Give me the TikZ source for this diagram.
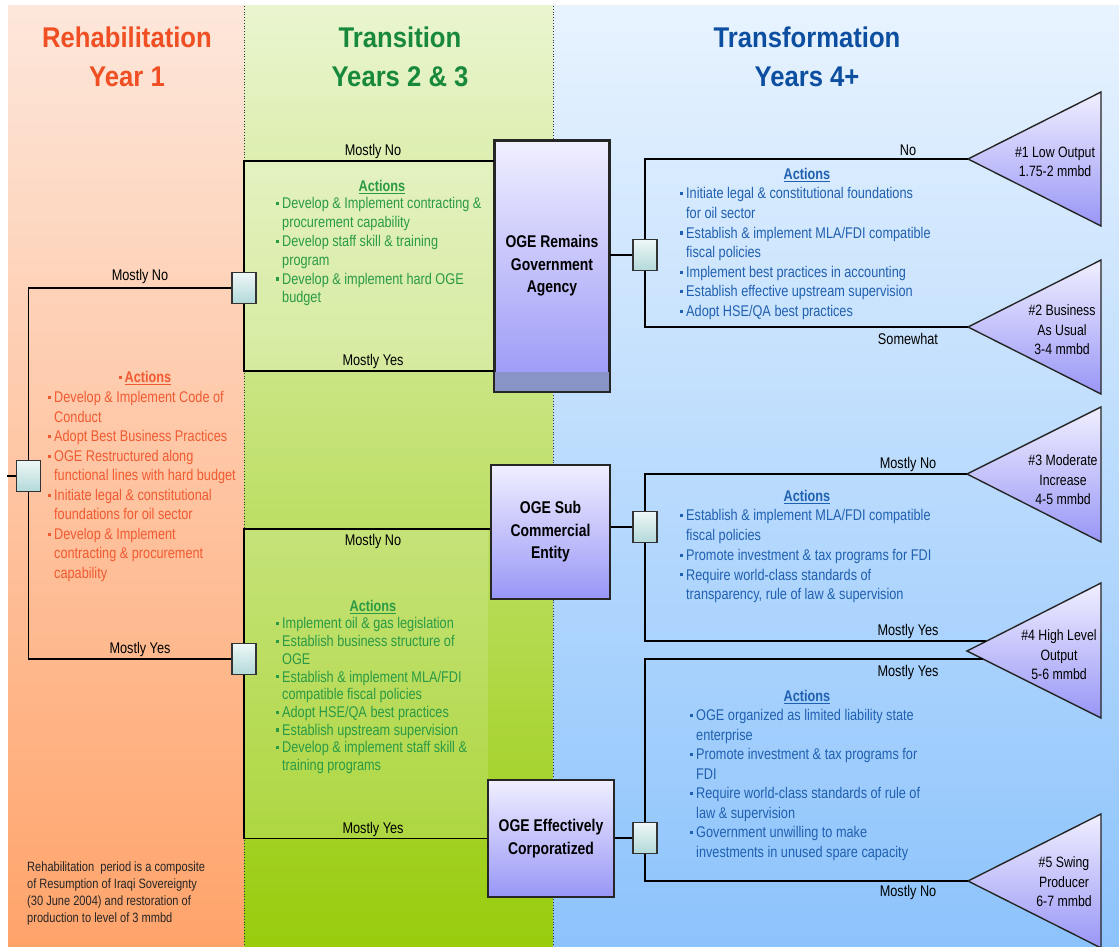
\documentclass[tikz,border=0pt]{standalone}
\usepackage{fontspec}
\setmainfont{Liberation Sans}[FakeStretch=0.82]
\newfontfamily\headfont{Liberation Sans}[FakeStretch=0.9]
\usetikzlibrary{calc}
\definecolor{orgtop}{HTML}{FDE7DB}
\definecolor{orgbot}{HTML}{FFA36A}
\definecolor{grntop}{HTML}{EAF5D0}
\definecolor{grnbot}{HTML}{98CC0C}
\definecolor{blutop}{HTML}{E8F3FE}
\definecolor{blubot}{HTML}{8CC3FC}
\definecolor{boxtop}{HTML}{F0EFFF}
\definecolor{boxbot}{HTML}{9896F6}
\definecolor{band}{HTML}{8994C6}
\definecolor{sqtop}{HTML}{EEF7F7}
\definecolor{sqbot}{HTML}{B3D8D9}
\definecolor{rehab}{HTML}{F04E23}
\definecolor{rehabtxt}{HTML}{F05A32}
\definecolor{trans}{HTML}{18893A}
\definecolor{transtxt}{HTML}{2A9A45}
\definecolor{xform}{HTML}{0C4EA0}
\definecolor{xformtxt}{HTML}{2060B0}
\newcommand{\bul}{\makebox[6pt][l]{\raisebox{3.6pt}{\rule{3.2pt}{3.2pt}}}}
\newcommand{\ind}{\makebox[6pt]{}}
\newcommand{\actul}[1]{\setbox0\hbox{#1}\rlap{\rule[-2.4pt]{\wd0}{1.1pt}}\box0}
\tikzset{
  link/.style={draw=black, line width=1.3pt},
  sqr/.style={rectangle, draw=black!80, line width=1.4pt, top color=sqtop, bottom color=sqbot,
    minimum width=24pt, minimum height=31pt, inner sep=0pt},
  oge/.style={rectangle, draw=black!85, line width=1.6pt, top color=boxtop, bottom color=boxbot,
    align=center, font=\fontsize{17}{22.5}\selectfont\bfseries, inner sep=0pt},
  outc/.style={draw=black!85, line width=1.4pt, top color=boxtop, bottom color=boxbot},
  outt/.style={align=center, font=\fontsize{15}{19.5}\selectfont, inner sep=0pt},
  lab/.style={font=\fontsize{15.5}{18}\selectfont, inner sep=0pt},
  head/.style={align=center, font=\headfont\fontsize{28.5}{39}\selectfont\bfseries, inner sep=0pt, anchor=north},
  acts/.style={align=left, inner sep=0pt, anchor=north west},
  actt/.style={font=\fontsize{15.5}{18}\selectfont\bfseries, inner sep=0pt},
  note/.style={align=left, inner sep=0pt, anchor=north west, text=black!85, font=\fontsize{13.5}{17}\selectfont},
}
\begin{document}
\begin{tikzpicture}[x=1pt, y=-1pt]
  \useasboundingbox (0,0) rectangle (1119,947);
  \fill[white] (0,0) rectangle (1119,947);

  % phase columns
  \shade[top color=orgtop, bottom color=orgbot] (8,6) rectangle (244,947);
  \shade[top color=grntop, bottom color=grnbot] (244,6) rectangle (553,947);
  \shade[top color=blutop, bottom color=blubot] (553,6) rectangle (1119,947);
  \fill[white, opacity=0.22] (244,161) rectangle (495,371);
  \fill[white, opacity=0.14] (244,529) rectangle (488,839);
  \draw[black!80, dotted, line width=0.8pt] (244,6) -- (244,947);
  \draw[black!80, dotted, line width=0.8pt] (553,6) -- (553,947);

  \node[head, text=rehab] (h1) at (127,27) {Rehabilitation\\Year 1};
  \node[head, text=trans] (h2) at (400,27) {Transition\\Years 2 \& 3};
  \node[head, text=xform] (h3) at (807,27) {Transformation\\Years 4+};

  % decision squares and outcome boxes
  \node[sqr] (c0) at (28.5,476) {};
  \node[sqr] (c1) at (244,288) {};
  \node[sqr] (c2) at (244,659) {};
  \node[sqr] (d1) at (645,255) {};
  \node[sqr] (d2) at (645,527) {};
  \node[sqr] (d3) at (645,838) {};

  \node[oge, minimum width=114pt, minimum height=250pt] (oge1) at (552,266) {OGE Remains\\Government\\Agency};
  \fill[band] (495,372) rectangle (609,391);
  \draw[black!85, line width=1.6pt] (oge1.north west) rectangle (oge1.south east);
  \node[oge, minimum width=119pt, minimum height=134pt] (oge2) at (550.5,532) {OGE Sub\\Commercial\\Entity};
  \node[oge, minimum width=126pt, minimum height=117pt] (oge3) at (551,838.5) {OGE Effectively\\Corporatized};

  % outcome triangles
  \coordinate (tip1) at (968,159);
  \coordinate (tip2) at (968,327);
  \coordinate (tip3) at (967,474);
  \coordinate (tip4) at (967,651);
  \coordinate (tip5) at (968,881);
  \path[outc] (tip1) -- (1101,92) -- (1101,226) -- cycle;
  \path[outc] (tip2) -- (1101,260) -- (1101,394) -- cycle;
  \path[outc] (tip3) -- (1101,407) -- (1101,542) -- cycle;
  \path[outc] (tip4) -- (1101,583) -- (1101,718) -- cycle;
  \path[outc] (tip5) -- (1101,814) -- (1101,948) -- cycle;
  \coordinate (in4a) at (986,641);
  \coordinate (in4b) at (983,659);
  \node[outt] (o1) at (1055,162) {\#1 Low Output\\1.75-2 mmbd};
  \node[outt] (o2) at (1062,330) {\#2 Business\\As Usual\\3-4 mmbd};
  \node[outt] (o3) at (1063,480) {\#3 Moderate\\Increase\\4-5 mmbd};
  \node[outt] (o4) at (1059,655) {\#4 High Level\\Output\\5-6 mmbd};
  \node[outt] (o5) at (1064,882) {\#5 Swing\\Producer\\6-7 mmbd};

  % branches
  \coordinate (stub) at (7,476);
  \coordinate (j1) at (0,161);
  \coordinate (j2) at (0,371);
  \coordinate (j3) at (0,529);
  \draw[link] (c0.west) -- (stub);
  \draw[link] (c0.north) |- (c1.west);
  \draw[link] (c0.south) |- (c2.west);
  \draw[link] (c1.north) |- (j1 -| oge1.west);
  \draw[link] (c1.south) |- (j2 -| oge1.west);
  \draw[link] (c2.north) |- (j3 -| oge2.west);
  \draw[link] (c2.south) |- (oge3.west);
  \draw[link] (d1.west -| oge1.east) -- (d1.west);
  \draw[link] (d2.west -| oge2.east) -- (d2.west);
  \draw[link] (d3.west -| oge3.east) -- (d3.west);
  \draw[link] (d1.north) |- (tip1);
  \draw[link] (d1.south) |- (tip2);
  \draw[link] (d2.north) |- (tip3);
  \draw[link] (d2.south) |- (in4a);
  \draw[link] (d3.north) |- (in4b);
  \draw[link] (d3.south) |- (tip5);

  \node[lab] (l1) at (140,276) {Mostly No};
  \node[lab] (l2) at (140,649) {Mostly Yes};
  \node[lab] (l3) at (373,151) {Mostly No};
  \node[lab] (l4) at (373,361) {Mostly Yes};
  \node[lab] (l5) at (373,541) {Mostly No};
  \node[lab] (l6) at (373,829) {Mostly Yes};
  \node[lab] (l7) at (908,150) {No};
  \node[lab] (l8) at (908,339) {Somewhat};
  \node[lab] (l9) at (908,464) {Mostly No};
  \node[lab] (l10) at (908,631) {Mostly Yes};
  \node[lab] (l11) at (908,672) {Mostly Yes};
  \node[lab] (l12) at (908,892) {Mostly No};

  % action lists
  \node[actt, text=rehabtxt] (at0) at (145,378) {\bul\actul{Actions}};
  \node[acts, text=rehabtxt, font=\fontsize{15.5}{19.5}\selectfont] (ac0) at (48,391.5)
    {\bul Develop \& Implement Code of\\ \ind Conduct\\ \bul Adopt Best Business Practices\\
     \bul OGE Restructured along\\ \ind functional lines with hard budget\\
     \bul Initiate legal \& constitutional\\ \ind foundations for oil sector\\
     \bul Develop \& Implement\\ \ind contracting \& procurement\\ \ind capability};

  \node[actt, text=transtxt] (at1) at (382,187) {\actul{Actions}};
  \node[acts, text=transtxt, font=\fontsize{15.5}{18.8}\selectfont] (ac1) at (276,197.5)
    {\bul Develop \& Implement contracting \&\\ \ind procurement capability\\
     \bul Develop staff skill \& training\\ \ind program\\
     \bul Develop \& implement hard OGE\\ \ind budget};

  \node[actt, text=transtxt] (at2) at (373,607) {\actul{Actions}};
  \node[acts, text=transtxt, font=\fontsize{15.5}{17.7}\selectfont] (ac2) at (276,617.5)
    {\bul Implement oil \& gas legislation\\ \bul Establish business structure of\\ \ind OGE\\
     \bul Establish \& implement MLA/FDI\\ \ind compatible fiscal policies\\
     \bul Adopt HSE/QA best practices\\ \bul Establish upstream supervision\\
     \bul Develop \& implement staff skill \&\\ \ind training programs};

  \node[actt, text=xformtxt] (at3) at (807,175) {\actul{Actions}};
  \node[acts, text=xformtxt, font=\fontsize{15.5}{19.6}\selectfont] (ac3) at (680,187.5)
    {\bul Initiate legal \& constitutional foundations\\ \ind for oil sector\\
     \bul Establish \& implement MLA/FDI compatible\\ \ind fiscal policies\\
     \bul Implement best practices in accounting\\ \bul Establish effective upstream supervision\\
     \bul Adopt HSE/QA best practices};

  \node[actt, text=xformtxt] (at4) at (807,497) {\actul{Actions}};
  \node[acts, text=xformtxt, font=\fontsize{15.5}{19.7}\selectfont] (ac4) at (680,509.5)
    {\bul Establish \& implement MLA/FDI compatible\\ \ind fiscal policies\\
     \bul Promote investment \& tax programs for FDI\\
     \bul Require world-class standards of\\ \ind transparency, rule of law \& supervision};

  \node[actt, text=xformtxt] (at5) at (807,697) {\actul{Actions}};
  \node[acts, text=xformtxt, font=\fontsize{15.5}{19.5}\selectfont] (ac5) at (690,709.5)
    {\bul OGE organized as limited liability state\\ \ind enterprise\\
     \bul Promote investment \& tax programs for\\ \ind FDI\\
     \bul Require world-class standards of rule of\\ \ind law \& supervision\\
     \bul Government unwilling to make\\ \ind investments in unused spare capacity};

  \node[note] (fn) at (27,862) {Rehabilitation\ \ period is a composite\\ of Resumption of Iraqi Sovereignty\\
    (30 June 2004) and restoration of\\ production to level of 3 mmbd};
\end{tikzpicture}
\end{document}
